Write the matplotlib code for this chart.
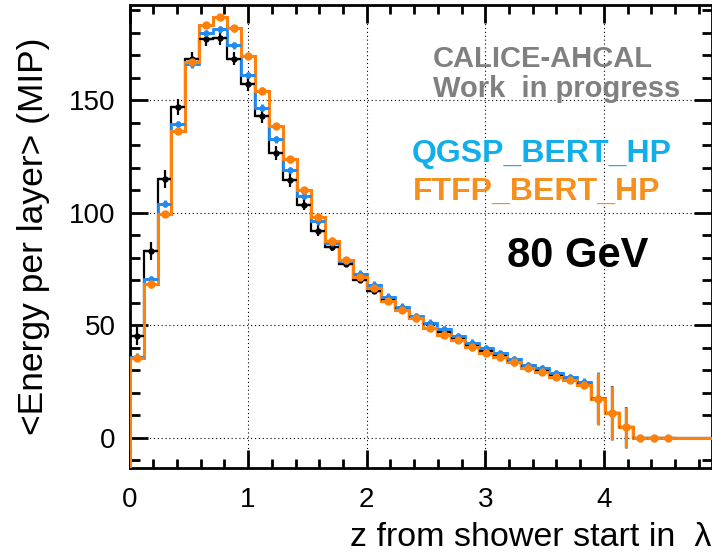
import numpy as np
import matplotlib
matplotlib.use("Agg")
import matplotlib.pyplot as plt
from matplotlib.ticker import MultipleLocator

plt.rcParams['font.family'] = ['Liberation Sans', 'DejaVu Sans']

# longitudinal profile, 80 GeV, bin width in lambda
bin_width = 0.118
n_bins_drawn = 43

data = [45, 83, 115, 147, 168.5, 177, 177.5, 168.5, 157, 143,
        126.5, 114.5, 103.5, 92, 84.6, 77.2, 70.1, 65.3, 61.2, 57.5,
        53.8, 50.4, 46.8, 44.2, 41.2, 38.7, 36.8, 34.2, 31.9, 30.1,
        28, 26.4, 24.2, 17, 10.8, 4.6, 0, 0, 0]
data_err = [4, 4, 4, 3.5, 3, 3, 3, 3, 3, 3,
            3, 3, 2.5, 2.5, 1.5, 1.5, 1.5, 1, 1, 1,
            1, 1, 1, 1, 1, 1, 1, 1, 1, 1,
            1, 1, 1, 11, 12, 9.2, 0, 0, 0]

qgsp = [36, 70.4, 104, 139.4, 166, 179.7, 181.5, 174.3, 161.2, 146.7,
        132.6, 119, 107.4, 96.2, 86.7, 78.7, 72.8, 67.9, 62.7, 58.2,
        54.1, 51.1, 48.2, 45.2, 42.2, 39.7, 37.5, 35, 32.3, 30.8,
        28.6, 26.8, 24.9, 17.5, 10.8, 4.6, 0, 0, 0]
qgsp_err = [1.5] * 33 + [11.5, 12, 9.2, 0, 0, 0]

ftfp = [35.6, 68.2, 99.4, 136.4, 167, 183.4, 187, 182, 169.6, 154.2,
        138.5, 123.7, 110.1, 98, 87.6, 79, 71.3, 66.4, 60.9, 56.8,
        53, 48.9, 45.6, 43.4, 40.2, 37.8, 35.7, 33.5, 31.1, 29.3,
        27.1, 25.6, 23.4, 17.1, 10.8, 4.6, 0, 0, 0]
ftfp_err = [1.5] * 33 + [11.5, 12, 9.2, 0, 0, 0]

c_data = 'black'
c_qgsp = '#1f8cf5'
c_ftfp = '#ff800a'

fig = plt.figure(figsize=(7.12, 5.59), dpi=100)
ax = fig.add_axes([0.1819, 0.1628, 0.8174, 0.8283])

edges = np.arange(n_bins_drawn + 1) * bin_width
ymin, ymax = -13.5, 192.3


def draw_profile(vals, errs, color, lw, marker, ms):
    full = np.zeros(n_bins_drawn)
    full[:len(vals)] = vals
    ax.stairs(full, edges, baseline=ymin, color=color, lw=lw, zorder=3)
    centers = (np.arange(len(vals)) + 0.5) * bin_width
    ax.errorbar(centers, vals, yerr=errs, xerr=bin_width / 2, fmt=marker,
                color=color, ms=ms, elinewidth=lw, capsize=0, zorder=4)


draw_profile(data, data_err, c_data, 1.6, 'o', 3.5)
draw_profile(qgsp, qgsp_err, c_qgsp, 2.0, 'o', 3.5)
draw_profile(ftfp, ftfp_err, c_ftfp, 2.2, 'o', 5)

ax.set_xlim(0, 4.907)
ax.set_ylim(ymin, ymax)

ax.xaxis.set_major_locator(MultipleLocator(1))
ax.xaxis.set_minor_locator(MultipleLocator(0.2))
ax.yaxis.set_major_locator(MultipleLocator(50))
ax.yaxis.set_minor_locator(MultipleLocator(10))
ax.tick_params(which='both', direction='in', top=True, right=True,
               width=2, labelsize=20)
ax.tick_params(axis='x', which='major', length=13, pad=14)
ax.tick_params(axis='x', which='minor', length=6.5)
ax.tick_params(axis='y', which='major', length=13, pad=10)
ax.tick_params(axis='y', which='minor', length=7)
ax.tick_params(axis='x', which='both', top=True, labeltop=False)

for s in ax.spines.values():
    s.set_linewidth(2)

ax.grid(True, which='major', color='black', lw=0.8, ls=(0, (1, 2.5)))
ax.set_axisbelow(True)

ax.set_xlabel('z from shower start in  λ', fontsize=24.5, loc='right', labelpad=6)
ax.set_ylabel('<Energy per layer> (MIP)', fontsize=25.5, labelpad=14)

W, H = 712, 559
fig.text(433 / W, 1 - 66.7 / H, 'CALICE-AHCAL', color='#808080',
         fontsize=21, fontweight='bold', va='baseline')
fig.text(433 / W, 1 - 97 / H, 'Work  in progress', color='#808080',
         fontsize=21, fontweight='bold', va='baseline')
fig.text(412 / W, 1 - 161.7 / H, 'QGSP_BERT_HP', color='#12aeea',
         fontsize=23, fontweight='bold', va='baseline')
fig.text(413 / W, 1 - 200 / H, 'FTFP_BERT_HP', color='#f5901e',
         fontsize=23, fontweight='bold', va='baseline')
fig.text(507 / W, 1 - 266.7 / H, '80 GeV', color='black',
         fontsize=30, fontweight='bold', va='baseline')

fig.savefig('out.png', dpi=100)
